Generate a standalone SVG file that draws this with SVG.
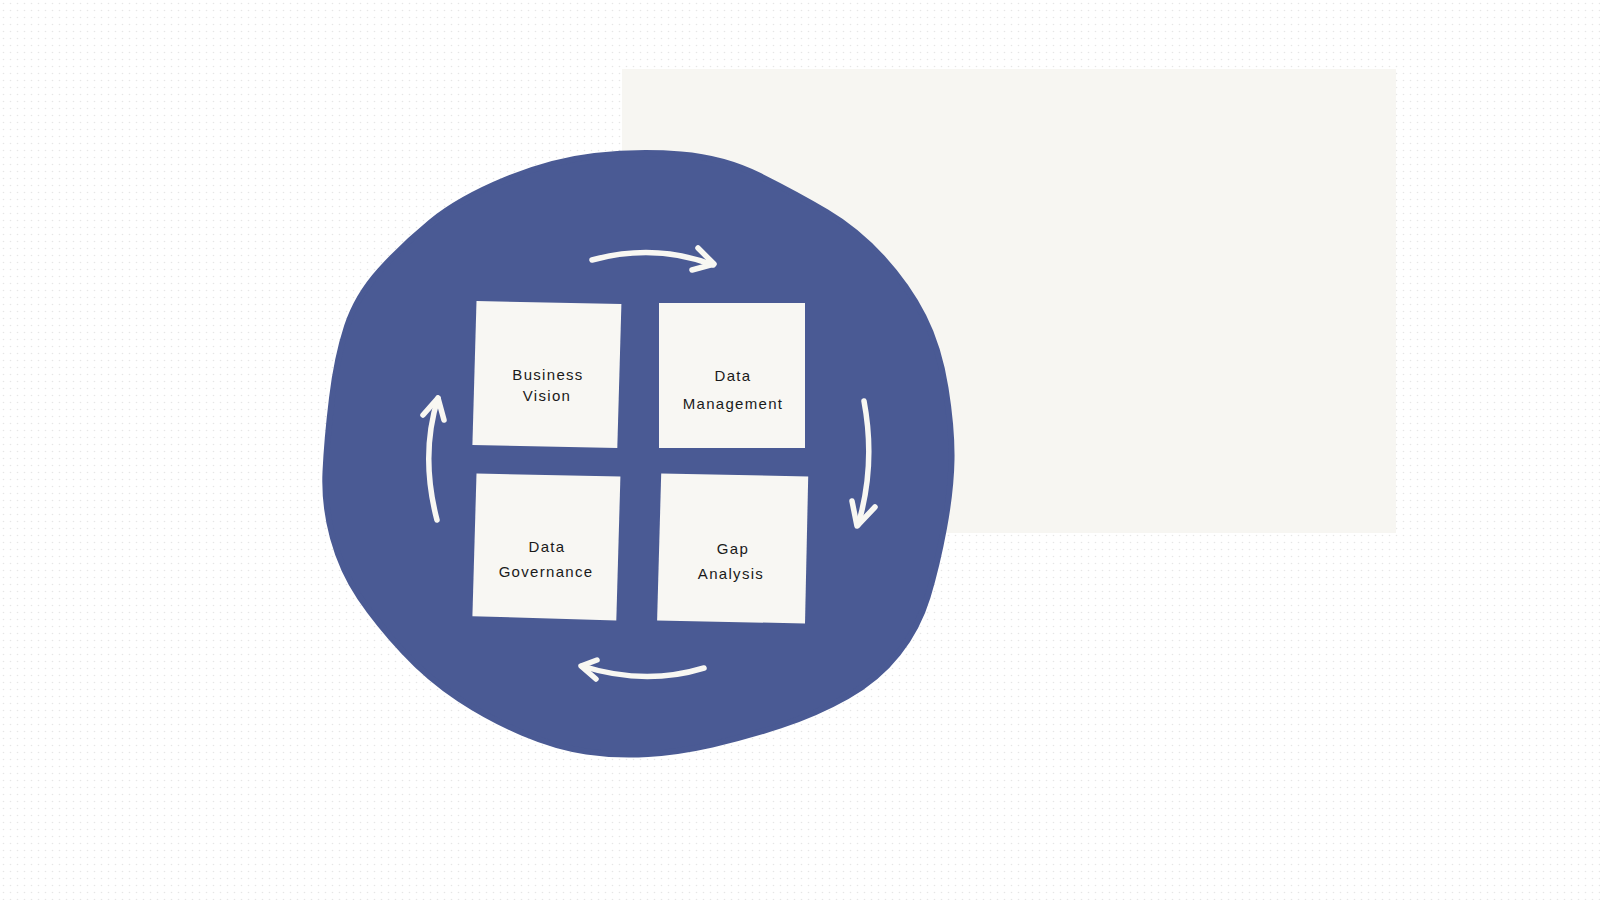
<svg xmlns="http://www.w3.org/2000/svg" width="1600" height="900" viewBox="0 0 1600 900">
<defs>
<pattern id="dots" width="7" height="7" patternUnits="userSpaceOnUse">
<circle cx="3.5" cy="3.5" r="0.8" fill="#e6e6e6"/>
</pattern>
</defs>
<style>
.card{fill:#f8f7f3;}
.lbl{font-family:"Liberation Sans","DejaVu Sans",sans-serif;font-size:15px;fill:#1a1a1a;text-anchor:middle;letter-spacing:1.3px;}
.arr{fill:none;stroke:#f8f7f2;stroke-width:5.5;stroke-linecap:round;stroke-linejoin:round;}
</style>
<rect width="1600" height="900" fill="#ffffff"/>
<rect width="1600" height="900" fill="url(#dots)"/>
<rect x="622" y="69" width="774" height="464" fill="#f7f6f2"/>
<path d="M594.5,156 Q638,151 681,154.5 Q724,158 760,176 Q796,194 826.5,212 Q857,230 882.5,258 Q908,286 923.5,316.5 Q939,347 945.5,388 Q952,429 951.5,459.5 Q951,490 944,528 Q937,566 927.5,597 Q918,628 898,653.5 Q878,679 847,696.5 Q816,714 780.5,725.5 Q745,737 712,744.5 Q679,752 648,754 Q617,756 586.5,751.5 Q556,747 523,733 Q490,719 459.5,699 Q429,679 403.5,651.5 Q378,624 360,597.5 Q342,571 333,538 Q324,505 325.5,472 Q327,439 332,398 Q337,357 347,326.5 Q357,296 380,270.5 Q403,245 431,222 Q459,199 505,180 Q551,161 594.5,156 Z" fill="#4a5a94" stroke="#4a5a94" stroke-width="6" stroke-linejoin="round"/>
<g id="node-business-vision">
<polygon class="card" points="476.5,301 621.4,304 617.3,448 472.4,445"/>
<text class="lbl" x="548" y="380">Business</text>
<text class="lbl" x="547" y="401">Vision</text>
</g>
<g id="node-data-management">
<polygon class="card" points="659,303 805,303 805,448 659,448"/>
<text class="lbl" x="733" y="381">Data</text>
<text class="lbl" x="733" y="409">Management</text>
</g>
<g id="node-data-governance">
<polygon class="card" points="476.5,473.5 620.4,476.5 616.3,620.4 472.4,616.3"/>
<text class="lbl" x="547" y="552">Data</text>
<text class="lbl" x="546" y="577">Governance</text>
</g>
<g id="node-gap-analysis">
<polygon class="card" points="661.2,473.5 808.2,476.5 805,623.5 657.1,620.4"/>
<text class="lbl" x="733" y="554">Gap</text>
<text class="lbl" x="731" y="579">Analysis</text>
</g>
<g id="connectors">
<path class="arr" d="M592,260 Q655,243 713,265"/>
<path class="arr" d="M698,248 L714,264 L692,270"/>
<path class="arr" d="M864,401 Q876,465 858,525"/>
<path class="arr" d="M852,501 L857,526 L875,507"/>
<path class="arr" d="M704,668 Q645,686 582,666"/>
<path class="arr" d="M597,660 L581,666 L596,679"/>
<path class="arr" d="M437,520 Q420,455 438,398"/>
<path class="arr" d="M423,415 L438,398 L444,420"/>
</g>
</svg>
